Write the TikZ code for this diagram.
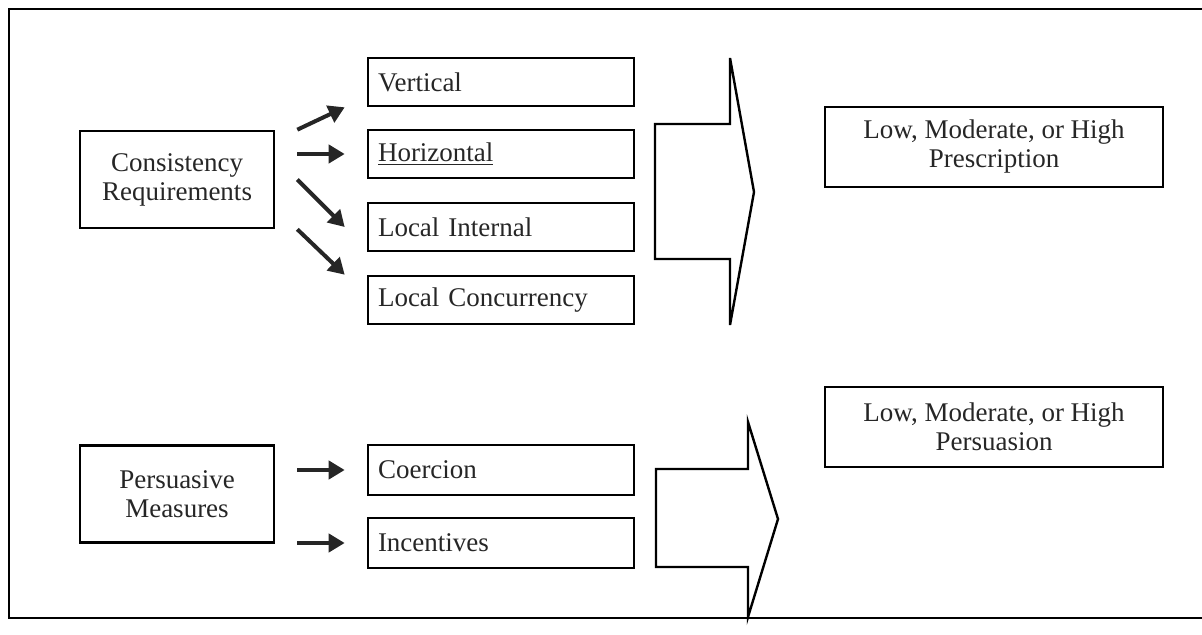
\documentclass[tikz,border=0pt]{standalone}
\usepackage{fontspec}
\setmainfont{Liberation Serif}
\usepackage{tikz}
\usetikzlibrary{arrows.meta,positioning}

\begin{document}
\begin{tikzpicture}[x=0.5pt,y=-0.5pt,
  every node/.style={font=\fontsize{13.5}{14.5}\selectfont,text=black!85},
  outerbox/.style={draw,line width=1.3pt,align=center,minimum width=97pt,minimum height=48.5pt,inner sep=2pt},
  itembox/.style={draw,line width=1.3pt,text width=123pt,align=left,inner xsep=5pt,inner ysep=0pt,minimum height=24pt},
  resultbox/.style={draw,line width=1.3pt,align=center,minimum width=169pt,minimum height=40pt,inner sep=2pt},
  feed/.style={line width=2pt,black!85,-{Triangle[length=8pt,width=9pt]}},
  bigarrow/.style={draw,line width=1.2pt,line join=miter}]
\useasboundingbox (0,0) rectangle (1202,635);
\draw[line width=1pt] (1202,9) -- (9,9) -- (9,618) -- (1202,618);

\node[outerbox] (cons) at (177,179.5) {Consistency\\Requirements};
\node[itembox] (vert) at (501,82) {Vertical};
\node[itembox] (horiz) at (501,154) {\underline{Horizontal}};
\node[itembox] (int) at (501,227) {Local Internal};
\node[itembox] (conc) at (501,300) {Local Concurrency};
\node[resultbox] (presc) at (994,147) {Low, Moderate, or High\\Prescription};

\draw[feed] ([xshift=11pt]cons.north east) -- ([xshift=-11pt]vert.south west);
\draw[feed] ([xshift=11pt]cons.east |- horiz.west) -- ([xshift=-11pt]horiz.west);
\draw[feed] ([xshift=11pt]cons.east) -- ([xshift=-11pt]int.west);
\draw[feed] ([xshift=11pt]cons.south east) -- ([xshift=-11pt]conc.north west);

\draw[bigarrow] (655,124) -- (730,124) -- (730,58) -- (754,192) -- (730,325) -- (730,259) -- (655,259) -- cycle;

\node[outerbox] (pers) at (177,494) {Persuasive\\Measures};
\node[itembox,minimum height=25pt] (coer) at (501,470) {Coercion};
\node[itembox,minimum height=25pt] (incent) at (501,543) {Incentives};
\node[resultbox] (persu) at (994,427) {Low, Moderate, or High\\Persuasion};

\draw[feed] ([xshift=11pt]pers.east |- coer.west) -- ([xshift=-11pt]coer.west);
\draw[feed] ([xshift=11pt]pers.east |- incent.west) -- ([xshift=-11pt]incent.west);

\draw[bigarrow] (656,469) -- (748,469) -- (748,422) -- (778,519) -- (748,617) -- (748,567) -- (656,567) -- cycle;
\end{tikzpicture}
\end{document}
